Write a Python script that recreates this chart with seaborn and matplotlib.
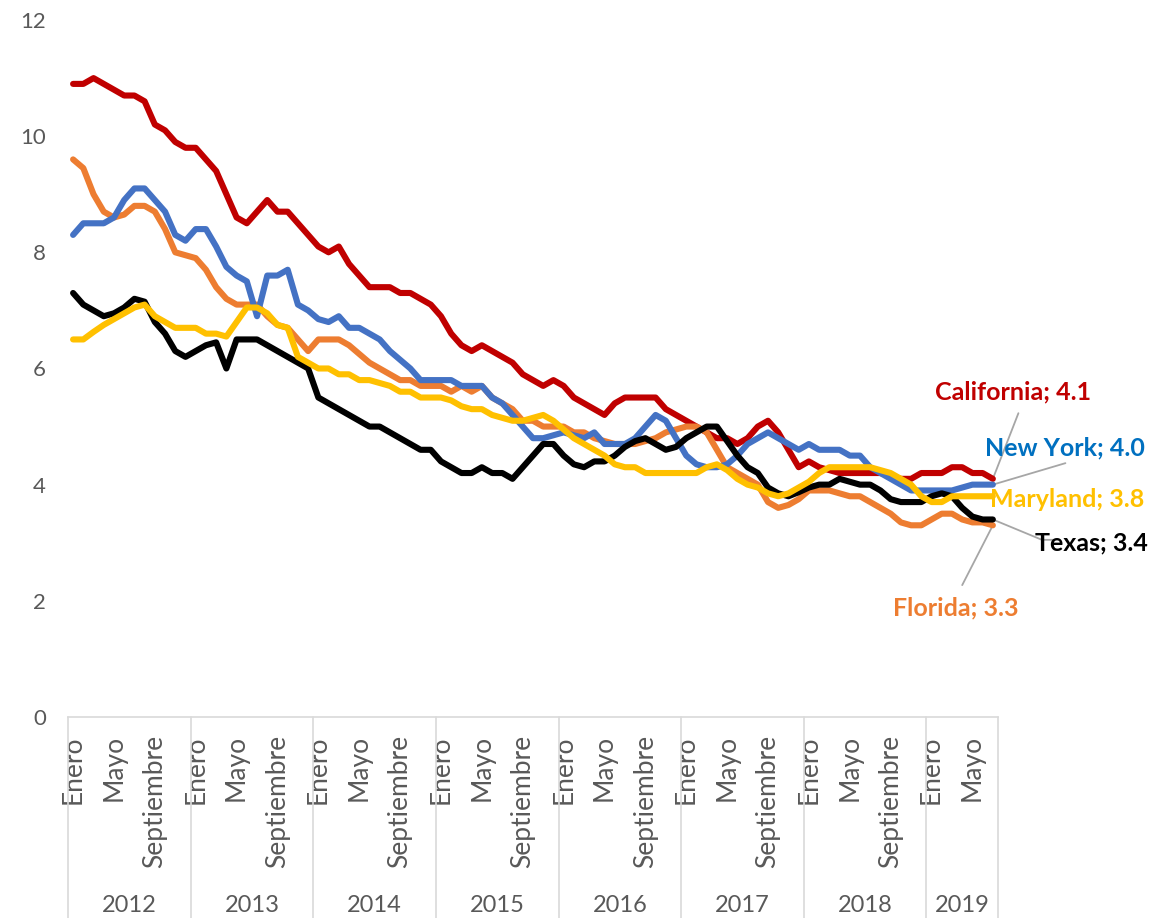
import matplotlib
matplotlib.use('Agg')
import matplotlib.pyplot as plt
import matplotlib.transforms as mtransforms
import seaborn as sns
import numpy as np
import pandas as pd

# tasa de desempleo mensual, enero 2012 - julio 2019
anios = [2012, 2013, 2014, 2015, 2016, 2017, 2018, 2019]
meses = ['Enero', 'Febrero', 'Marzo', 'Abril', 'Mayo', 'Junio', 'Julio',
         'Agosto', 'Septiembre', 'Octubre', 'Noviembre', 'Diciembre']

california = [10.9, 10.9, 11.0, 10.9, 10.8, 10.7, 10.7, 10.6, 10.2, 10.1, 9.9, 9.8,
              9.8, 9.6, 9.4, 9.0, 8.6, 8.5, 8.7, 8.9, 8.7, 8.7, 8.5, 8.3,
              8.1, 8.0, 8.1, 7.8, 7.6, 7.4, 7.4, 7.4, 7.3, 7.3, 7.2, 7.1,
              6.9, 6.6, 6.4, 6.3, 6.4, 6.3, 6.2, 6.1, 5.9, 5.8, 5.7, 5.8,
              5.7, 5.5, 5.4, 5.3, 5.2, 5.4, 5.5, 5.5, 5.5, 5.5, 5.3, 5.2,
              5.1, 5.0, 4.9, 4.8, 4.8, 4.7, 4.8, 5.0, 5.1, 4.9, 4.6, 4.3,
              4.4, 4.3, 4.25, 4.2, 4.2, 4.2, 4.2, 4.2, 4.15, 4.1, 4.1, 4.2,
              4.2, 4.2, 4.3, 4.3, 4.2, 4.2, 4.1]
florida = [9.6, 9.45, 9.0, 8.7, 8.6, 8.65, 8.8, 8.8, 8.7, 8.4, 8.0, 7.95,
           7.9, 7.7, 7.4, 7.2, 7.1, 7.1, 7.1, 6.9, 6.75, 6.7, 6.5, 6.3,
           6.5, 6.5, 6.5, 6.4, 6.25, 6.1, 6.0, 5.9, 5.8, 5.8, 5.7, 5.7,
           5.7, 5.6, 5.7, 5.6, 5.7, 5.5, 5.4, 5.3, 5.1, 5.1, 5.0, 5.0,
           5.0, 4.9, 4.9, 4.8, 4.75, 4.7, 4.7, 4.7, 4.75, 4.8, 4.9, 4.95,
           5.0, 5.0, 4.9, 4.6, 4.3, 4.2, 4.1, 4.0, 3.7, 3.6, 3.65, 3.75,
           3.9, 3.9, 3.9, 3.85, 3.8, 3.8, 3.7, 3.6, 3.5, 3.35, 3.3, 3.3,
           3.4, 3.5, 3.5, 3.4, 3.35, 3.35, 3.3]
new_york = [8.3, 8.5, 8.5, 8.5, 8.6, 8.9, 9.1, 9.1, 8.9, 8.7, 8.3, 8.2,
            8.4, 8.4, 8.1, 7.75, 7.6, 7.5, 6.9, 7.6, 7.6, 7.7, 7.1, 7.0,
            6.85, 6.8, 6.9, 6.7, 6.7, 6.6, 6.5, 6.3, 6.15, 6.0, 5.8, 5.8,
            5.8, 5.8, 5.7, 5.7, 5.7, 5.5, 5.4, 5.2, 5.0, 4.8, 4.8, 4.85,
            4.9, 4.85, 4.8, 4.9, 4.7, 4.7, 4.7, 4.8, 5.0, 5.2, 5.1, 4.8,
            4.5, 4.35, 4.3, 4.3, 4.35, 4.5, 4.7, 4.8, 4.9, 4.8, 4.7, 4.6,
            4.7, 4.6, 4.6, 4.6, 4.5, 4.5, 4.3, 4.2, 4.1, 4.0, 3.9, 3.9,
            3.9, 3.9, 3.9, 3.95, 4.0, 4.0, 4.0]
texas = [7.3, 7.1, 7.0, 6.9, 6.95, 7.05, 7.2, 7.15, 6.8, 6.6, 6.3, 6.2,
         6.3, 6.4, 6.45, 6.0, 6.5, 6.5, 6.5, 6.4, 6.3, 6.2, 6.1, 6.0,
         5.5, 5.4, 5.3, 5.2, 5.1, 5.0, 5.0, 4.9, 4.8, 4.7, 4.6, 4.6,
         4.4, 4.3, 4.2, 4.2, 4.3, 4.2, 4.2, 4.1, 4.3, 4.5, 4.7, 4.7,
         4.5, 4.35, 4.3, 4.4, 4.4, 4.5, 4.65, 4.75, 4.8, 4.7, 4.6, 4.65,
         4.8, 4.9, 5.0, 5.0, 4.75, 4.5, 4.3, 4.2, 3.95, 3.85, 3.8, 3.87,
         3.95, 4.0, 4.0, 4.1, 4.05, 4.0, 4.0, 3.9, 3.75, 3.7, 3.7, 3.7,
         3.8, 3.85, 3.8, 3.6, 3.45, 3.4, 3.4]
maryland = [6.5, 6.5, 6.63, 6.75, 6.85, 6.95, 7.05, 7.1, 6.9, 6.8, 6.7, 6.7,
            6.7, 6.6, 6.6, 6.55, 6.8, 7.05, 7.05, 6.95, 6.75, 6.7, 6.2, 6.1,
            6.0, 6.0, 5.9, 5.9, 5.8, 5.8, 5.75, 5.7, 5.6, 5.6, 5.5, 5.5,
            5.5, 5.45, 5.35, 5.3, 5.3, 5.2, 5.15, 5.1, 5.1, 5.15, 5.2, 5.1,
            4.95, 4.8, 4.7, 4.6, 4.5, 4.35, 4.3, 4.3, 4.2, 4.2, 4.2, 4.2,
            4.2, 4.2, 4.3, 4.35, 4.25, 4.1, 4.0, 3.95, 3.85, 3.8, 3.85, 3.95,
            4.05, 4.2, 4.3, 4.3, 4.3, 4.3, 4.3, 4.25, 4.2, 4.1, 4.0, 3.8,
            3.7, 3.7, 3.8, 3.8, 3.8, 3.8, 3.8]

estados = ['California', 'Florida', 'New York', 'Texas', 'Maryland']
colores = {'California': '#C00000', 'Florida': '#ED7D31', 'New York': '#4472C4',
           'Texas': '#000000', 'Maryland': '#FFC000'}
color_etiqueta = {'California': '#C00000', 'Florida': '#ED7D31', 'New York': '#0070C0',
                  'Texas': '#000000', 'Maryland': '#FFC000'}

sns.set_style('white')
plt.rcParams['font.family'] = ['Lato', 'DejaVu Sans']

n = len(california)
fechas = [(a, m) for a in anios for m in meses][:n]
df = pd.DataFrame({'idx': range(n), 'California': california, 'Florida': florida,
                   'New York': new_york, 'Texas': texas, 'Maryland': maryland})
largo = df.melt(id_vars='idx', var_name='estado', value_name='tasa')

fig = plt.figure(figsize=(11.58, 9.18), dpi=100)
ax = fig.add_axes([0.0587, 0.219, 0.8031, 0.7592])
sns.lineplot(data=largo, x='idx', y='tasa', hue='estado', hue_order=estados,
             palette=colores, linewidth=4.4, legend=False, ax=ax)
for l in ax.lines:
    l.set_solid_joinstyle('round')
    l.set_solid_capstyle('round')

ax.set_xlim(-0.5, n - 0.5)
ax.set_ylim(0, 12)
ax.set_yticks(range(0, 13, 2))
ax.set_xlabel('')
ax.set_ylabel('')
gris = '#595959'
ax.tick_params(axis='y', length=0, pad=16, labelsize=16, labelcolor=gris)

pos = [i for i in range(n) if i % 4 == 0]
ax.set_xticks(pos)
ax.set_xticklabels([fechas[i][1] for i in pos], rotation=90, va='top', ha='center')
ax.tick_params(axis='x', length=0, pad=13, labelsize=19, labelcolor=gris)

for s in ['top', 'right', 'left']:
    ax.spines[s].set_visible(False)
ax.spines['bottom'].set_color('#D9D9D9')
ax.spines['bottom'].set_linewidth(1.2)

# separadores y etiquetas de año
trans = mtransforms.blended_transform_factory(ax.transData, ax.transAxes)
inicio = 0
for a in anios:
    cuenta = sum(1 for f in fechas if f[0] == a)
    fin = inicio + cuenta
    ax.plot([inicio - 0.5, inicio - 0.5], [0, -0.29], transform=trans,
            color='#D9D9D9', lw=1.2, clip_on=False)
    ax.text((inicio + fin - 1) / 2, -0.27, str(a), transform=trans,
            ha='center', va='center', fontsize=17, color=gris)
    inicio = fin
ax.plot([n - 0.5, n - 0.5], [0, -0.29], transform=trans,
        color='#D9D9D9', lw=1.2, clip_on=False)

# etiquetas de datos con líneas guía (posición del borde izquierdo)
ultimo = {'California': california[-1], 'Florida': florida[-1], 'New York': new_york[-1],
          'Texas': texas[-1], 'Maryland': maryland[-1]}
etiquetas = {'California': (84.3, 5.6), 'New York': (89.2, 4.63), 'Maryland': (89.7, 3.74),
             'Texas': (94.1, 3.0), 'Florida': (80.2, 1.88)}
guias = {'California': [(92.5, 5.23)], 'New York': [(97.1, 4.37)],
         'Texas': [(94.8, 3.05), (96.0, 3.05)], 'Florida': [(87.0, 2.27)]}
for e in estados:
    if e in guias:
        xs = [n - 1] + [p[0] for p in guias[e]]
        ys = [ultimo[e]] + [p[1] for p in guias[e]]
        ax.plot(xs, ys, color='#A6A6A6', lw=1.3, clip_on=False, zorder=1)
    x, y = etiquetas[e]
    ax.text(x, y, f'{e}; {ultimo[e]:.1f}', ha='left', va='center', fontsize=18,
            fontweight='bold', color=color_etiqueta[e], clip_on=False)

fig.savefig('out.png', dpi=100)
